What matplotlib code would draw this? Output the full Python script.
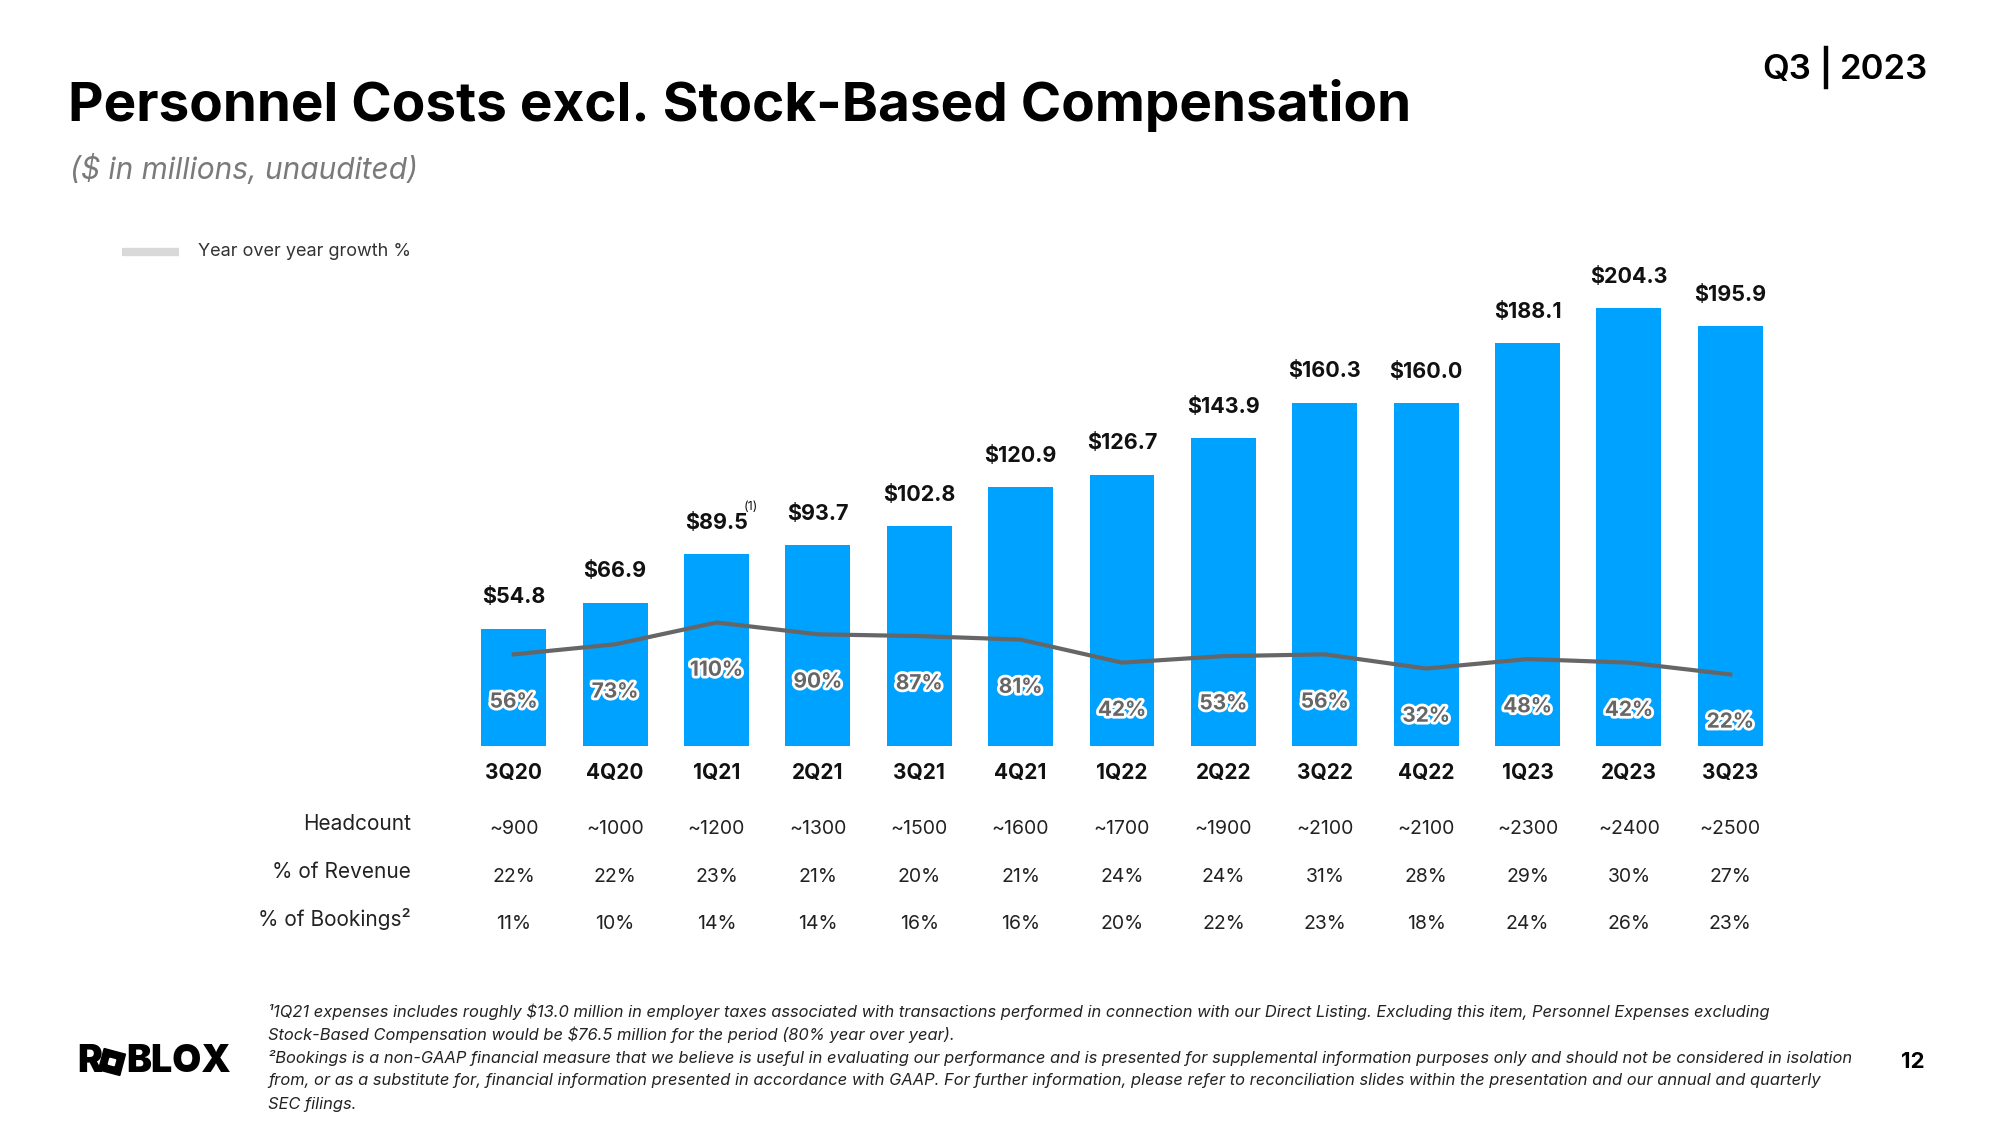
import matplotlib
matplotlib.use("Agg")
import matplotlib.pyplot as plt
import matplotlib.transforms as mtransforms
import matplotlib.patheffects as pe
from matplotlib.patches import Rectangle

plt.rcParams['font.family'] = ['Inter', 'DejaVu Sans']

quarters = ["3Q20", "4Q20", "1Q21", "2Q21", "3Q21", "4Q21", "1Q22", "2Q22",
            "3Q22", "4Q22", "1Q23", "2Q23", "3Q23"]
costs = [54.8, 66.9, 89.5, 93.7, 102.8, 120.9, 126.7, 143.9, 160.3, 160.0, 188.1, 204.3, 195.9]
cost_labels = ["$54.8", "$66.9", "$89.5", "$93.7", "$102.8", "$120.9", "$126.7", "$143.9",
               "$160.3", "$160.0", "$188.1", "$204.3", "$195.9"]
growth = [56, 73, 110, 90, 87, 81, 42, 53, 56, 32, 48, 42, 22]
headcount = ["~900", "~1000", "~1200", "~1300", "~1500", "~1600", "~1700", "~1900",
             "~2100", "~2100", "~2300", "~2400", "~2500"]
pct_revenue = [22, 22, 23, 21, 20, 21, 24, 24, 31, 28, 29, 30, 27]
pct_bookings = [11, 10, 14, 14, 16, 16, 20, 22, 23, 18, 24, 26, 23]
row_labels = ["Headcount", "% of Revenue", "% of Bookings²"]

BLUE = "#00A2FF"
W, H = 2000, 1125
fig = plt.figure(figsize=(20, 11.25), dpi=100)

# axes geometry (pixels)
left_px, width_px = 463, 1318
base_px, height_px = 746, 535.5
ax = fig.add_axes([left_px / W, (H - base_px) / H, width_px / W, height_px / H])
x = list(range(len(quarters)))
ax.bar(x, costs, width=0.64, color=BLUE, zorder=2)
ax.set_xlim(-0.5, len(quarters) - 0.5)
ax.set_ylim(0, 250)
for s in ax.spines.values():
    s.set_visible(False)
ax.set_yticks([])
ax.set_xticks(x)
ax.set_xticklabels(quarters, fontsize=15, fontweight='bold', color='#111111')
ax.tick_params(axis='x', length=0, pad=12)

for xi, v, lab in zip(x, costs, cost_labels):
    ax.annotate(lab, (xi, v), xytext=(0, 22.5), textcoords='offset points',
                ha='center', va='center', fontsize=15.5, fontweight='bold', color='#111111')
ax.annotate("(1)", (2, costs[2]), xytext=(25, 34), textcoords='offset points',
            ha='center', va='center', fontsize=9, color='#111111')

ax2 = ax.twinx()
ax2.set_ylim(-99.3, 808.3)
ax2.set_axis_off()
ax2.plot(x, growth, color='#666666', lw=3, zorder=3)
for xi, g in zip(x, growth):
    ax2.annotate(f"{g}%", (xi, g), xytext=(0, -34), textcoords='offset points',
                 ha='center', va='center', fontsize=15, fontweight='bold', color='#666666',
                 path_effects=[pe.withStroke(linewidth=4, foreground='white')])

# table rows
blend = mtransforms.blended_transform_factory(ax.transData, fig.transFigure)
row_y = [826, 874, 921]
rows = [headcount, [f"{v}%" for v in pct_revenue], [f"{v}%" for v in pct_bookings]]
for ry, lab, vals in zip(row_y, row_labels, rows):
    fig.text(411 / W, 1 - (ry - 2) / H, lab, ha='right', va='center', fontsize=15, color='#222222')
    for xi, v in zip(x, vals):
        fig.text(xi, 1 - (ry + 3) / H, v, transform=blend, ha='center', va='center',
                 fontsize=14, color='#222222')

# title
fig.text(68 / W, 1 - 105 / H, "Personnel Costs excl. Stock-Based Compensation",
         ha='left', va='center', fontsize=39.5, fontweight='bold', color='#000000')
fig.text(70 / W, 1 - 169 / H, "($ in millions, unaudited)", ha='left', va='center',
         fontsize=21.5, style='italic', color='#7a7a7a')
fig.text(1811 / W, 1 - 70 / H, "Q3", ha='right', va='center', fontsize=25,
         fontweight='semibold', color='#000000')
fig.add_artist(plt.Line2D([1826 / W, 1826 / W], [1 - 48 / H, 1 - 87 / H], color='black', lw=3.2))
fig.text(1840 / W, 1 - 70 / H, "2023", ha='left', va='center', fontsize=25,
         fontweight='semibold', color='#000000')

# legend
fig.add_artist(plt.Line2D([122 / W, 179 / W], [1 - 252 / H, 1 - 252 / H], color='#d9d9d9',
                          lw=6, solid_capstyle='butt'))
fig.text(198 / W, 1 - 251 / H, "Year over year growth %", ha='left', va='center',
         fontsize=13, color='#333333')

# logo
fig.text(77 / W, 1 - 1062 / H, "R", ha='left', va='center', fontsize=27,
         fontweight='black', color='#000000')
cx, cy = 112, H - 1062
rot = mtransforms.Affine2D().rotate_deg_around(cx, cy, -15)
fig.add_artist(Rectangle((cx - 11, cy - 11), 22, 22, transform=rot, color='black', zorder=5))
fig.add_artist(Rectangle((cx - 3, cy - 3), 6, 6, transform=rot, color='white', zorder=6))
fig.text(126 / W, 1 - 1062 / H, "BLOX", ha='left', va='center', fontsize=27,
         fontweight='black', color='#000000')

fig.text(1913 / W, 1 - 1062 / H, "12", ha='center', va='center', fontsize=16,
         fontweight='bold', color='#000000')

# footnotes
foot = [
    "¹1Q21 expenses includes roughly $13.0 million in employer taxes associated with transactions performed in connection with our Direct Listing. Excluding this item, Personnel Expenses excluding",
    "Stock-Based Compensation would be $76.5 million for the period (80% year over year).",
    "²Bookings is a non-GAAP financial measure that we believe is useful in evaluating our performance and is presented for supplemental information purposes only and should not be considered in isolation",
    "from, or as a substitute for, financial information presented in accordance with GAAP. For further information, please refer to reconciliation slides within the presentation and our annual and quarterly",
    "SEC filings.",
]
for i, line in enumerate(foot):
    fig.text(268 / W, 1 - (1012 + 23 * i) / H, line, ha='left', va='center',
             fontsize=11.85, style='italic', color='#222222')

fig.savefig("out.png", dpi=100, facecolor='white')
